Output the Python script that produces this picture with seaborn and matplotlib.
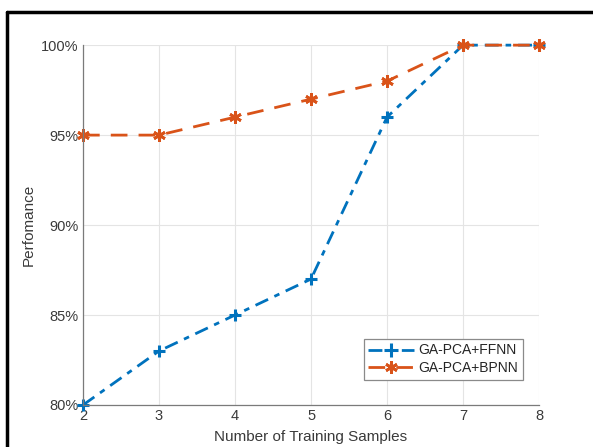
import matplotlib
matplotlib.use("Agg")
import matplotlib.pyplot as plt
import pandas as pd
import seaborn as sns
from matplotlib.lines import Line2D
from matplotlib.ticker import PercentFormatter

# Data
samples = [2, 3, 4, 5, 6, 7, 8]
ffnn = [80, 83, 85, 87, 96, 100, 100]
bpnn = [95, 95, 96, 97, 98, 100, 100]
y_ticks = [80, 85, 90, 95, 100]

df = pd.DataFrame({"samples": samples, "GA-PCA+FFNN": ffnn, "GA-PCA+BPNN": bpnn})

sns.set_style("white")
plt.rcParams['font.family'] = ['Liberation Sans', 'DejaVu Sans']

fig = plt.figure(figsize=(5.93, 4.47), dpi=100)
ax = fig.add_axes([0.140, 0.094, 0.769, 0.805])

blue = '#0072BD'
orange = '#D95319'
asterisk = (6, 2, 0)
dashdot = (0, (5, 2.5, 2, 2.5))
dashed = (0, (6, 4))

sns.lineplot(data=df, x="samples", y="GA-PCA+FFNN", ax=ax, color=blue,
             linestyle=dashdot, linewidth=2, marker='+', markersize=9,
             markeredgewidth=2.2, markeredgecolor=blue, clip_on=False)
sns.lineplot(data=df, x="samples", y="GA-PCA+BPNN", ax=ax, color=orange,
             linestyle=dashed, linewidth=2, marker=asterisk, markersize=9,
             markeredgewidth=2, markeredgecolor=orange, clip_on=False)

ax.set_xlim(2, 8)
ax.set_ylim(80, 100)
ax.set_yticks(y_ticks)
ax.yaxis.set_major_formatter(PercentFormatter(decimals=0))
ax.set_xticks(samples)

ax.grid(True, color='#e4e4e4', linewidth=0.8)
ax.set_axisbelow(True)
for side in ['top', 'right']:
    ax.spines[side].set_visible(False)
for side in ['left', 'bottom']:
    ax.spines[side].set_color('#7a7a7a')
    ax.spines[side].set_linewidth(0.9)
ax.tick_params(direction='in', length=4, width=0.8, color='#7a7a7a',
               labelsize=10.5, labelcolor='#3a3a3a', pad=3)

ax.set_xlabel('Number of Training Samples', fontsize=11, color='#3a3a3a', labelpad=5)
ax.set_ylabel('Perfomance', fontsize=11, color='#3a3a3a', labelpad=4)

handles = [
    Line2D([], [], color=blue, linestyle=dashdot, linewidth=2,
           marker='+', markersize=10, markeredgewidth=2.2),
    Line2D([], [], color=orange, linestyle=dashed, linewidth=2,
           marker=asterisk, markersize=9, markeredgewidth=2),
]
leg = ax.legend(handles, ['GA-PCA+FFNN', 'GA-PCA+BPNN'], loc='lower right',
                bbox_to_anchor=(0.965, 0.07), fontsize=10, fancybox=False,
                framealpha=1, edgecolor='#8a8a8a', handlelength=3.3,
                borderpad=0.35, labelspacing=0.25, handletextpad=0.3,
                borderaxespad=0)
leg.get_frame().set_linewidth(0.9)
for t in leg.get_texts():
    t.set_color('#262626')

# black frame around the picture (top and left edges)
fig.add_artist(Line2D([7 / 593, 1], [1 - 11.5 / 447, 1 - 11.5 / 447],
                      transform=fig.transFigure, color='black', linewidth=2.5))
fig.add_artist(Line2D([7 / 593, 7 / 593], [0, 1 - 11.5 / 447],
                      transform=fig.transFigure, color='black', linewidth=2.5))

fig.savefig('out.png', dpi=100)
